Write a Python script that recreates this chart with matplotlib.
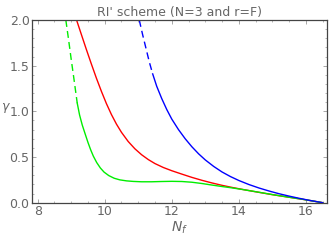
import matplotlib
matplotlib.use("Agg")
import matplotlib.pyplot as plt
from matplotlib.ticker import MultipleLocator

# Data
green_dash_N = [8.84, 8.92, 9.00, 9.08, 9.18]
green_dash_g = [2.00, 1.79, 1.57, 1.36, 1.09]
green_N = [9.18, 9.25, 9.33, 9.41, 9.50, 9.58, 9.66, 9.76, 9.87, 9.98, 10.12, 10.28,
           10.45, 10.65, 10.85, 11.10, 11.40, 11.70, 12.00, 12.30, 12.60, 12.90, 13.20,
           13.50, 13.80, 14.10, 14.40, 14.70, 15.00, 15.30, 15.60, 15.90, 16.20, 16.50]
green_g = [1.09, 0.96, 0.85, 0.76, 0.66, 0.58, 0.51, 0.44, 0.38, 0.335, 0.297, 0.268,
           0.250, 0.239, 0.233, 0.229, 0.229, 0.232, 0.234, 0.232, 0.224, 0.210, 0.193,
           0.177, 0.162, 0.145, 0.127, 0.108, 0.089, 0.071, 0.054, 0.037, 0.019, 0.0]

red_N = [9.16, 9.30, 9.45, 9.60, 9.75, 9.90, 10.05, 10.20, 10.35, 10.50, 10.70, 10.90,
         11.10, 11.30, 11.50, 11.75, 12.00, 12.30, 12.60, 12.90, 13.20, 13.50, 13.80,
         14.10, 14.40, 14.70, 15.00, 15.30, 15.60, 15.90, 16.20, 16.50]
red_g = [2.00, 1.845, 1.68, 1.52, 1.365, 1.22, 1.085, 0.965, 0.86, 0.77, 0.67, 0.59,
         0.525, 0.472, 0.428, 0.385, 0.350, 0.313, 0.277, 0.245, 0.216, 0.190, 0.167,
         0.146, 0.126, 0.107, 0.088, 0.071, 0.054, 0.037, 0.019, 0.0]

blue_dash_N = [11.03, 11.13, 11.23, 11.33, 11.43]
blue_dash_g = [2.00, 1.84, 1.69, 1.54, 1.41]
blue_N = [11.43, 11.55, 11.70, 11.85, 12.00, 12.20, 12.40, 12.60, 12.80, 13.00, 13.25,
          13.50, 13.75, 14.00, 14.30, 14.60, 14.90, 15.20, 15.50, 15.80, 16.10, 16.50]
blue_g = [1.41, 1.275, 1.14, 1.02, 0.915, 0.80, 0.70, 0.612, 0.535, 0.468, 0.397,
          0.336, 0.286, 0.243, 0.199, 0.161, 0.128, 0.098, 0.072, 0.048, 0.026, 0.0]

title = "RI' scheme (N=3 and r=F)"
xticks = [8, 10, 12, 14, 16]
yticks = [0.0, 0.5, 1.0, 1.5, 2.0]

fig = plt.figure(figsize=(3.32, 2.40), dpi=100)
ax = fig.add_axes([32.3/332, 1-202.7/240, (326.7-32.3)/332, (202.7-20)/240])

lw = 1.0
ax.plot(red_N, red_g, color="#ff0000", lw=lw)
ax.plot(green_dash_N, green_dash_g, color="#00ee00", lw=lw, dashes=(5, 3))
ax.plot(green_N, green_g, color="#00ee00", lw=lw)
ax.plot(blue_dash_N, blue_dash_g, color="#0000ff", lw=lw, dashes=(5, 3))
ax.plot(blue_N, blue_g, color="#0000ff", lw=lw)

ax.set_xlim(7.84, 16.62)
ax.set_ylim(0, 2.0)
ax.set_xticks(xticks)
ax.set_yticks(yticks)
ax.set_yticklabels([f"{v:.1f}" for v in yticks])
ax.xaxis.set_minor_locator(MultipleLocator(0.5))
ax.yaxis.set_minor_locator(MultipleLocator(0.1))
ax.tick_params(which="both", direction="in", top=True, right=True,
               colors="#999999", labelcolor="#666666", labelsize=9)
ax.tick_params(which="major", length=3, width=0.6, pad=2)
ax.tick_params(which="minor", length=1.5, width=0.5)
for s in ax.spines.values():
    s.set_color("#444444")
    s.set_linewidth(0.9)

ax.set_title(title, fontsize=9, color="#666666", pad=3)
ax.set_xlabel("$N_f$", fontsize=10, color="#666666", labelpad=1)
fig.text(5.5/332, 1-108/240, "$\\gamma$", fontsize=9, color="#666666",
         ha="center", va="center")

fig.savefig("out.png", dpi=100)
